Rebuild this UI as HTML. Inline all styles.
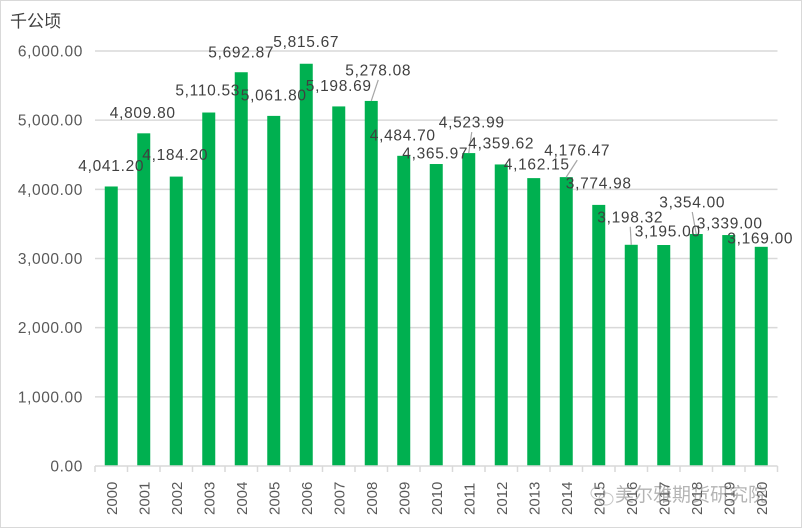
<!DOCTYPE html>
<html><head><meta charset="utf-8"><style>
html,body{margin:0;padding:0;background:#fff;}
svg{display:block;font-family:"Liberation Sans","Noto Sans CJK SC",sans-serif;}
</style></head><body>
<svg id="chart" width="802" height="529" viewBox="0 0 802 529">
<rect x="0.5" y="0.5" width="801" height="527" fill="#fff" stroke="#d9d9d9"/>
<text x="10" y="27" font-size="17" fill="#404040">千公顷</text>
<g id="grid"></g><g id="bars"></g><g id="leaders"></g><g id="labels"></g><g id="xaxis"></g>
<g opacity="0.55">
<ellipse cx="598" cy="493" rx="7" ry="6" fill="none" stroke="#999"/>
<ellipse cx="606" cy="499" rx="7" ry="6" fill="none" stroke="#999"/>
<text x="615" y="501" font-size="19" fill="#777">美尔雅期货研究院</text>
</g>
</svg>
<script>
const categories=["2000","2001","2002","2003","2004","2005","2006","2007","2008","2009","2010","2011","2012","2013","2014","2015","2016","2017","2018","2019","2020"];
const values=[4041.20,4809.80,4184.20,5110.53,5692.87,5061.80,5815.67,5198.69,5278.08,4484.70,4365.97,4523.99,4359.62,4162.15,4176.47,3774.98,3198.32,3195.00,3354.00,3339.00,3169.00];
const valueLabels=["4,041.20","4,809.80","4,184.20","5,110.53","5,692.87","5,061.80","5,815.67","5,198.69","5,278.08","4,484.70","4,365.97","4,523.99","4,359.62","4,162.15","4,176.47","3,774.98","3,198.32","3,195.00","3,354.00","3,339.00","3,169.00"];
const yTicks=[0,1000,2000,3000,4000,5000,6000];
const yTickLabels=["0.00","1,000.00","2,000.00","3,000.00","4,000.00","5,000.00","6,000.00"];
// label offsets (layout, relative to bar top/center) emulating Excel's placement
const lblDx=[0,-1,-1,-1,0,0,0,0,7,-1,-1,3,0,3,11,0,-1,4,-4,1,-1];
const lblDy=[-21,-21,-22,-22.5,-20,-21,-22,-21,-31,-21,-11,-31,-21.5,-14,-27,-22,-28,-14,-32,-12,-9];
const leaderIdx=[8,11,14,16,18];
const NS="http://www.w3.org/2000/svg";
const X0=95,X1=777.5,Y0=466,Y1=51,YMAX=6000;
const band=(X1-X0)/categories.length;
const y=v=>Y0-(v/YMAX)*(Y0-Y1);
const xc=i=>X0+band*(i+0.5);
function mk(t,a,p){const e=document.createElementNS(NS,t);for(const k in a)e.setAttribute(k,a[k]);p.appendChild(e);return e;}
const grid=document.getElementById('grid');
yTicks.forEach((v,i)=>{
  if(v>0){const l=mk('line',{x1:X0,x2:X1,y1:y(v),y2:y(v),stroke:'#d9d9d9','stroke-width':1.5},grid);
  
  }
  const t=mk('text',{x:83,y:y(v)+5.5,'text-anchor':'end','font-size':15.5,'letter-spacing':0.6,fill:'#595959'},grid);
  t.textContent=yTickLabels[i];
  
  
});
const bars=document.getElementById('bars');
const labels=document.getElementById('labels');
const leaders=document.getElementById('leaders');
values.forEach((v,i)=>{
  const r=mk('rect',{x:xc(i)-6.5,y:y(v),width:13,height:Y0-y(v),fill:'#00b050'},bars);
  
  
  const lx=xc(i)+lblDx[i], ly=y(v)+lblDy[i];
  const t=mk('text',{x:lx,y:ly+5.5,'text-anchor':'middle','font-size':15.5,'letter-spacing':0.7,fill:'#404040'},labels);
  t.textContent=valueLabels[i];
  
  
  if(leaderIdx.includes(i)){
    const l=mk('line',{x1:lx,y1:ly+10,x2:xc(i),y2:y(v),stroke:'#a6a6a6','stroke-width':1.2},leaders);
    
    
  }
});
const xa=document.getElementById('xaxis');
const ax=mk('line',{x1:X0,x2:X1,y1:Y0,y2:Y0,stroke:'#d9d9d9','stroke-width':1.5},xa);


for(let i=0;i<=categories.length;i++){
  const tk=mk('line',{x1:X0+band*i,x2:X0+band*i,y1:Y0,y2:Y0+6,stroke:'#d9d9d9','stroke-width':1.5},xa);
  
  
}
categories.forEach((c,i)=>{
  const t=mk('text',{transform:`translate(${xc(i)+5.5},${Y0+49}) rotate(-90)`,'font-size':15,fill:'#595959'},xa);
  t.textContent=c;
  
  
});
</script>
</body></html>
